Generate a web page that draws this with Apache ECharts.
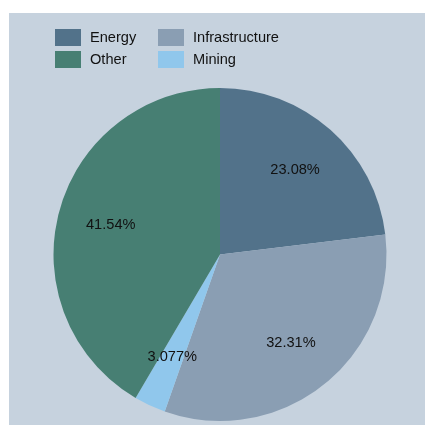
<!DOCTYPE html>
<html>
<head>
<meta charset="utf-8">
<script src="https://cdn.jsdelivr.net/npm/echarts@6/dist/echarts.min.js"></script>
<style>
  html, body { margin: 0; padding: 0; background: #ffffff; }
  #chart { width: 425px; height: 427px; }
</style>
</head>
<body>
<div id="chart"></div>
<script>
// Sector shares (counts) drawn clockwise from 12 o'clock
const sectors = ['Energy', 'Infrastructure', 'Mining', 'Other'];
const counts = [15, 21, 2, 27];
const sectorColors = ['#52728a', '#8a9eb3', '#90c7ec', '#477f73'];

// Legend columns
const legendColA = ['Energy', 'Other'];
const legendColB = ['Infrastructure', 'Mining'];

const pieData = sectors.map((name, i) => ({ name, value: counts[i] }));
const total = counts.reduce((a, b) => a + b, 0);

const center = [220, 254.5];
const radius = 166.5;

const legendBase = {
  orient: 'vertical',
  top: 24,
  itemWidth: 26,
  itemHeight: 17,
  itemGap: 5,
  icon: 'rect',
  textStyle: { fontFamily: 'Liberation Sans, Arial, sans-serif', fontSize: 14.6, color: '#111111', padding: [0, 0, 0, 4] }
};

const chart = echarts.init(document.getElementById('chart'), null, { renderer: 'canvas' });
chart.setOption({
  backgroundColor: '#ffffff',
  animation: false,
  color: sectorColors,
  graphic: [{
    type: 'rect',
    z: -10,
    silent: true,
    shape: { x: 9, y: 13, width: 416, height: 412 },
    style: { fill: '#c6d2de' }
  }],
  legend: [
    Object.assign({}, legendBase, { left: 50, data: legendColA }),
    Object.assign({}, legendBase, { left: 153, data: legendColB })
  ],
  series: [
    {
      type: 'pie',
      center: center,
      radius: [0, radius],
      startAngle: 90,
      clockwise: true,
      data: pieData,
      label: { show: false },
      labelLine: { show: false },
      emphasis: { disabled: true },
      itemStyle: { borderWidth: 0 }
    },
    {
      // transparent ring that only carries the percentage labels
      type: 'pie',
      center: center,
      radius: [54, radius],
      startAngle: 90,
      clockwise: true,
      silent: true,
      data: pieData,
      itemStyle: { color: 'rgba(0,0,0,0)', borderWidth: 0 },
      emphasis: { disabled: true },
      labelLine: { show: false },
      label: {
        show: true,
        position: 'inside',
        fontFamily: 'Liberation Sans, Arial, sans-serif',
        fontSize: 14.6,
        color: '#111111',
        formatter: function (p) {
          const pct = p.value / total * 100;
          return Number(pct.toPrecision(4)) + '%';
        }
      }
    }
  ]
});
</script>
</body>
</html>
